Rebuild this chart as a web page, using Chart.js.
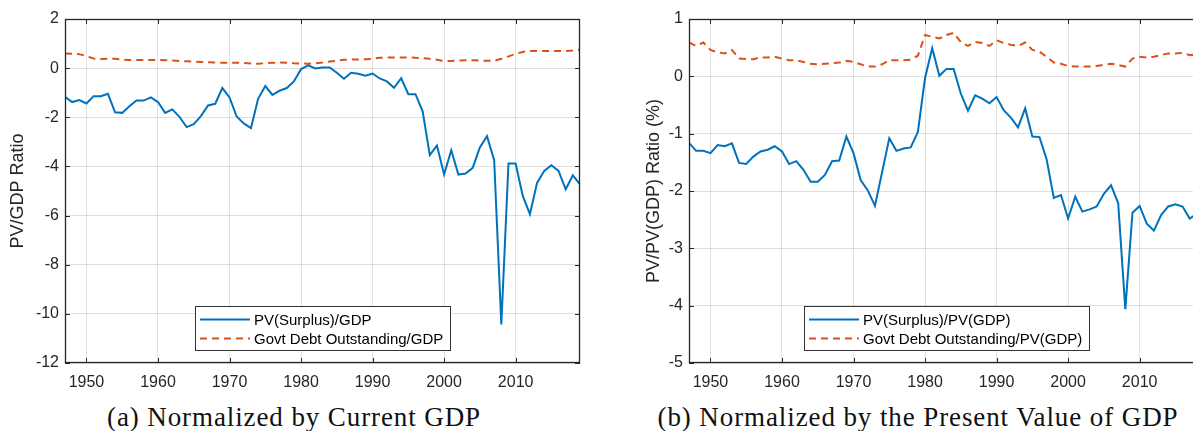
<!DOCTYPE html>
<html>
<head>
<meta charset="utf-8">
<script src="https://cdn.jsdelivr.net/npm/chart.js@4.4.0/dist/chart.umd.min.js"></script>
<style>
  html, body { margin: 0; padding: 0; background: #fff; width: 1193px; height: 431px; overflow: hidden; }
  .panel { position: absolute; top: 0; }
  .cap { position: absolute; top: 402px; font-family: "Liberation Serif", "DejaVu Serif", serif; font-size: 27px; letter-spacing: 0.9px; line-height: 30px; color: #111; white-space: nowrap; transform: translateX(-50%); }
</style>
</head>
<body>
<div class="panel" style="left:0"><canvas id="chartA" width="596" height="400"></canvas></div>
<div class="panel" style="left:600px"><canvas id="chartB" width="620" height="400"></canvas></div>
<div class="cap" style="left:294px">(a) Normalized by Current GDP</div>
<div class="cap" style="left:918px">(b) Normalized by the Present Value of GDP</div>

<script>
// ── Data ──────────────────────────────────────────────────────
const yearsA = [
  1947, 1948, 1949, 1950, 1951, 1952, 1953, 1954, 1955, 1956,
  1957, 1958, 1959, 1960, 1961, 1962, 1963, 1964, 1965, 1966,
  1967, 1968, 1969, 1970, 1971, 1972, 1973, 1974, 1975, 1976,
  1977, 1978, 1979, 1980, 1981, 1982, 1983, 1984, 1985, 1986,
  1987, 1988, 1989, 1990, 1991, 1992, 1993, 1994, 1995, 1996,
  1997, 1998, 1999, 2000, 2001, 2002, 2003, 2004, 2005, 2006,
  2007, 2008, 2009, 2010, 2011, 2012, 2013, 2014, 2015, 2016,
  2017, 2018, 2019
];
const yearsB = yearsA.slice(0, 72);   // panel (b) runs to 2018

// (a) PV(Surplus)/GDP
const surplusA = [
  -1.17, -1.38, -1.30, -1.44, -1.14, -1.14, -1.04, -1.80, -1.82, -1.55,
  -1.32, -1.32, -1.19, -1.38, -1.82, -1.68, -1.98, -2.40, -2.28, -1.95,
  -1.52, -1.45, -0.81, -1.19, -1.97, -2.25, -2.44, -1.25, -0.73, -1.09,
  -0.92, -0.81, -0.54, -0.04, 0.11, -0.01, 0.03, 0.03, -0.19, -0.43,
  -0.19, -0.23, -0.31, -0.22, -0.42, -0.54, -0.80, -0.41, -1.06, -1.06,
  -1.76, -3.54, -3.15, -4.33, -3.34, -4.33, -4.29, -4.06, -3.23, -2.77,
  -3.75, -10.43, -3.88, -3.88, -5.20, -5.94, -4.67, -4.18, -3.95, -4.18,
  -4.93, -4.36, -4.73
];
// (a) Govt Debt Outstanding/GDP
const debtA = [
  0.60, 0.59, 0.57, 0.49, 0.39, 0.37, 0.38, 0.38, 0.35, 0.33,
  0.33, 0.33, 0.33, 0.33, 0.32, 0.31, 0.29, 0.28, 0.26, 0.25,
  0.24, 0.23, 0.22, 0.22, 0.22, 0.21, 0.19, 0.18, 0.20, 0.22,
  0.23, 0.22, 0.20, 0.19, 0.18, 0.20, 0.23, 0.27, 0.30, 0.34,
  0.35, 0.35, 0.36, 0.38, 0.42, 0.43, 0.43, 0.43, 0.44, 0.42,
  0.41, 0.38, 0.34, 0.29, 0.29, 0.31, 0.32, 0.32, 0.31, 0.30,
  0.30, 0.38, 0.48, 0.58, 0.66, 0.70, 0.70, 0.70, 0.70, 0.70,
  0.70, 0.72, 0.75
];
// (b) PV(Surplus)/PV(GDP)
const surplusB = [
  -1.16, -1.30, -1.30, -1.34, -1.20, -1.22, -1.17, -1.51, -1.53, -1.40,
  -1.31, -1.28, -1.22, -1.31, -1.53, -1.48, -1.63, -1.84, -1.84, -1.72,
  -1.48, -1.47, -1.05, -1.34, -1.81, -1.99, -2.26, -1.67, -1.08, -1.30,
  -1.26, -1.24, -0.97, -0.03, 0.49, 0.01, 0.13, 0.13, -0.30, -0.60,
  -0.33, -0.39, -0.47, -0.36, -0.59, -0.72, -0.89, -0.56, -1.05, -1.06,
  -1.45, -2.12, -2.07, -2.48, -2.10, -2.36, -2.32, -2.27, -2.05, -1.90,
  -2.21, -4.06, -2.38, -2.26, -2.57, -2.69, -2.42, -2.27, -2.23, -2.27,
  -2.48, -2.40
];
// (b) Govt Debt Outstanding/PV(GDP)
const debtB = [
  0.59, 0.53, 0.59, 0.46, 0.42, 0.40, 0.46, 0.31, 0.30, 0.30,
  0.33, 0.33, 0.34, 0.31, 0.28, 0.28, 0.25, 0.22, 0.21, 0.22,
  0.23, 0.24, 0.27, 0.25, 0.21, 0.17, 0.17, 0.21, 0.28, 0.28,
  0.28, 0.29, 0.36, 0.72, 0.69, 0.66, 0.72, 0.76, 0.60, 0.53,
  0.60, 0.58, 0.53, 0.63, 0.58, 0.55, 0.53, 0.59, 0.46, 0.43,
  0.34, 0.24, 0.22, 0.18, 0.17, 0.17, 0.17, 0.18, 0.20, 0.22,
  0.20, 0.17, 0.31, 0.34, 0.33, 0.34, 0.37, 0.40, 0.40, 0.41,
  0.37, 0.38
];

const xTicks = [1950, 1960, 1970, 1980, 1990, 2000, 2010];
const yTicksA = [-12, -10, -8, -6, -4, -2, 0, 2];
const yTicksB = [-5, -4, -3, -2, -1, 0, 1];

// ── Defaults ──────────────────────────────────────────────────
const BLUE = '#0072BD';
const ORANGE = '#D95319';
const INK = '#262626';
Chart.defaults.font.family = '"Liberation Sans", Arial, Helvetica, sans-serif';
Chart.defaults.font.size = 16;
Chart.defaults.color = INK;

// ── MATLAB-style box with inward ticks ────────────────────────
const axisBox = {
  id: 'axisBox',
  afterDatasetsDraw(chart) {
    const { ctx, chartArea: a, scales: { x, y } } = chart;
    ctx.save();
    ctx.strokeStyle = INK;
    ctx.lineWidth = 1;
    ctx.beginPath();
    x.ticks.forEach(t => {
      const px = Math.round(x.getPixelForValue(t.value)) + 0.5;
      ctx.moveTo(px, a.bottom); ctx.lineTo(px, a.bottom - 5);
      ctx.moveTo(px, a.top); ctx.lineTo(px, a.top + 5);
    });
    y.ticks.forEach(t => {
      const py = Math.round(y.getPixelForValue(t.value)) + 0.5;
      ctx.moveTo(a.left, py); ctx.lineTo(a.left + 5, py);
      ctx.moveTo(a.right, py); ctx.lineTo(a.right - 5, py);
    });
    ctx.stroke();
    ctx.lineWidth = 1.3;
    ctx.strokeRect(a.left + 0.5, a.top + 0.5, a.right - a.left - 1, a.bottom - a.top - 1);
    ctx.restore();
  }
};

// ── Boxed legend inside the plot ──────────────────────────────
const boxLegend = {
  id: 'boxLegend',
  afterDraw(chart, args, opts) {
    const { ctx } = chart;
    ctx.save();
    ctx.fillStyle = '#fff';
    ctx.fillRect(opts.x, opts.y, opts.w, opts.h);
    ctx.strokeStyle = '#333';
    ctx.lineWidth = 1;
    ctx.strokeRect(opts.x + 0.5, opts.y + 0.5, opts.w, opts.h);
    ctx.font = '15px "Liberation Sans", Arial, sans-serif';
    ctx.textBaseline = 'middle';
    chart.data.datasets.forEach((ds, i) => {
      const cy = opts.y + 13.5 + i * 19;
      ctx.strokeStyle = ds.borderColor;
      ctx.lineWidth = ds.borderWidth;
      ctx.setLineDash(ds.borderDash || []);
      ctx.beginPath();
      ctx.moveTo(opts.x + 5, cy);
      ctx.lineTo(opts.x + 55, cy);
      ctx.stroke();
      ctx.setLineDash([]);
      ctx.fillStyle = '#000';
      ctx.fillText(ds.label, opts.x + 59, cy + 1);
    });
    ctx.restore();
  }
};

// ── Build one panel ───────────────────────────────────────────
function renderPanel(canvasId, years, surplus, debt, labels, yTicks, yTitle, titlePad, yWidth, legendBox) {
  const pts = vals => years.map((yr, i) => ({ x: yr, y: vals[i] }));
  new Chart(document.getElementById(canvasId), {
    type: 'line',
    data: {
      datasets: [
        { label: labels[0], data: pts(surplus), borderColor: BLUE, borderWidth: 2, pointRadius: 0, tension: 0 },
        { label: labels[1], data: pts(debt), borderColor: ORANGE, borderWidth: 2, borderDash: [7, 5], pointRadius: 0, tension: 0 }
      ]
    },
    options: {
      responsive: false,
      animation: false,
      layout: { padding: { top: 19, right: 16, left: 0, bottom: 0 } },
      plugins: { legend: { display: false }, tooltip: { enabled: false }, boxLegend: legendBox },
      scales: {
        x: {
          type: 'linear', min: 1947, max: 2019,
          afterBuildTicks: s => { s.ticks = xTicks.map(v => ({ value: v })); },
          afterFit: s => { s.height = 37; },
          grid: { color: 'rgba(0,0,0,0.12)', drawTicks: false },
          border: { display: false },
          ticks: { padding: 10, maxRotation: 0, callback: v => String(v) }
        },
        y: {
          min: yTicks[0], max: yTicks[yTicks.length - 1],
          afterBuildTicks: s => { s.ticks = yTicks.map(v => ({ value: v })); },
          afterFit: s => { s.width = yWidth; },
          grid: { color: 'rgba(0,0,0,0.12)', drawTicks: false },
          border: { display: false },
          ticks: { padding: 6, callback: v => String(v) },
          title: { display: true, text: yTitle, padding: { top: titlePad, bottom: 0 }, font: { size: 18 } }
        }
      }
    },
    plugins: [axisBox, boxLegend]
  });
}

renderPanel('chartA', yearsA, surplusA, debtA,
  ['PV(Surplus)/GDP', 'Govt Debt Outstanding/GDP'],
  yTicksA, 'PV/GDP Ratio', 7.7, 65,
  { x: 195, y: 306, w: 255, h: 44 });

renderPanel('chartB', yearsB, surplusB, debtB,
  ['PV(Surplus)/PV(GDP)', 'Govt Debt Outstanding/PV(GDP)'],
  yTicksB, 'PV/PV(GDP) Ratio (%)', 43, 89,
  { x: 204, y: 306, w: 285, h: 44 });
</script>
</body>
</html>
